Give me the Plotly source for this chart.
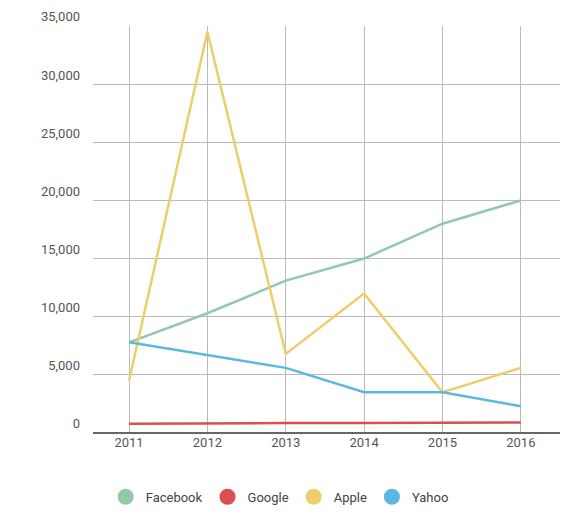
import plotly.graph_objects as go

years = [2011, 2012, 2013, 2014, 2015, 2016]
facebook = [7800, 10300, 13100, 15000, 18000, 20000]
google = [800, 850, 850, 850, 870, 900]
apple = [4500, 34500, 6800, 12000, 3500, 5600]
yahoo = [7800, 6700, 5600, 3500, 3500, 2300]
names = ["Facebook", "Google", "Apple", "Yahoo"]
colors = ["#93c9a7", "#db4f4f", "#f0cd6b", "#5bb8e0"]
series = [facebook, google, apple, yahoo]

fig = go.Figure()
for n, c, s in zip(names, colors, series):
    fig.add_trace(go.Scatter(x=years, y=s, mode="lines", line=dict(color=c, width=2.5),
                             name=n, showlegend=False))
for n, c in zip(names, colors):
    fig.add_trace(go.Scatter(x=[None], y=[None], mode="markers", name=n,
                             marker=dict(color=c, size=16, symbol="circle")))

fig.update_layout(
    width=578, height=520, plot_bgcolor="white", paper_bgcolor="white",
    margin=dict(l=85, r=26, t=18, b=95, autoexpand=False),
    font=dict(family="Roboto", size=13, color="#555"),
    xaxis=dict(range=[2010.54, 2016.5], tickvals=years, showgrid=True, gridcolor="#bbb",
               zeroline=False, ticks="", automargin=False),
    yaxis=dict(range=[0, 35000], dtick=5000, tickformat=",", showgrid=True, gridcolor="#bbb",
               zeroline=True, zerolinecolor="#666", zerolinewidth=1.5,
               ticklabelposition="outside top", ticks="", automargin=False, ticklabelstandoff=12),
    legend=dict(orientation="h", xref="container", x=0.47, xanchor="center",
                yref="container", y=0.06, yanchor="middle",
                font=dict(size=13, color="#444")),
)
fig.write_html("out.html")
